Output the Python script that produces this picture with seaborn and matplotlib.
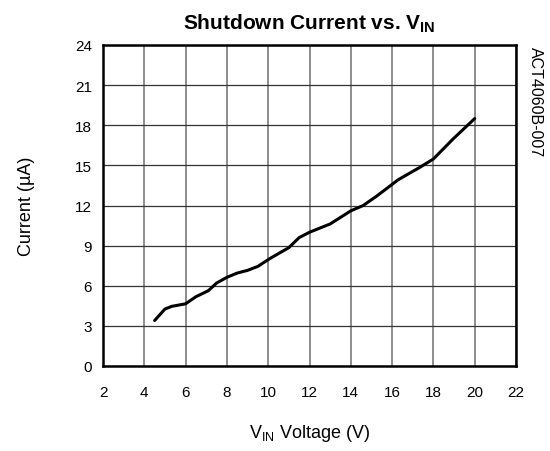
import matplotlib
matplotlib.use("Agg")
import matplotlib.pyplot as plt
import seaborn as sns
import pandas as pd

vin = [4.5, 5.0, 5.33, 6.0, 6.5, 7.1, 7.5, 8.0, 8.5, 9.0, 9.5, 10.1, 11.0, 11.5,
       12.0, 13.0, 14.0, 14.6, 15.25, 16.3, 17.35, 18.0, 18.95, 20.0]
current = [3.4, 4.26, 4.46, 4.65, 5.18, 5.63, 6.2, 6.63, 6.95, 7.15, 7.45, 8.05, 8.85, 9.6,
           10.0, 10.62, 11.6, 12.0, 12.7, 13.93, 14.86, 15.48, 16.97, 18.5]
x_ticks = [2, 4, 6, 8, 10, 12, 14, 16, 18, 20, 22]
y_ticks = [0, 3, 6, 9, 12, 15, 18, 21, 24]

sns.set_style("white", rc={"text.color": "black", "axes.labelcolor": "black",
                           "xtick.color": "black", "ytick.color": "black"})
plt.rcParams['font.family'] = ['Liberation Sans', 'DejaVu Sans']
plt.rcParams['mathtext.fontset'] = 'custom'
plt.rcParams['mathtext.rm'] = 'Liberation Sans'
plt.rcParams['mathtext.it'] = 'Liberation Sans:italic'
plt.rcParams['mathtext.bf'] = 'Liberation Sans:bold'

df = pd.DataFrame({"vin": vin, "current": current})

fig = plt.figure(figsize=(5.5, 4.52), dpi=100)
ax = fig.add_axes([103/550, 1-367/452, (516-103)/550, (367-46)/452])

sns.lineplot(data=df, x="vin", y="current", ax=ax, color="black", linewidth=2.2,
             estimator=None, sort=False)

ax.set_xlim(2, 22)
ax.set_ylim(0, 24)
ax.set_xticks(x_ticks)
ax.set_yticks(y_ticks)
ax.set_xticklabels([str(t) for t in x_ticks], fontsize=11)
ax.set_yticklabels([str(t) for t in y_ticks], fontsize=11)
ax.tick_params(axis='both', length=0)
ax.tick_params(axis='x', pad=14)
ax.tick_params(axis='y', pad=8)

ax.xaxis.grid(True, color="#7a7a7a", linewidth=1.2)
ax.yaxis.grid(True, color="#333333", linewidth=0.9)
ax.set_axisbelow(True)
for s in ax.spines.values():
    s.set_color("black")
    s.set_linewidth(1.8)
    s.set_visible(True)

ax.set_xlabel(r"V$_\mathrm{IN}$ Voltage (V)", fontsize=13, labelpad=16)
ax.set_ylabel("Current (µA)", fontsize=13, labelpad=29)
ax.set_title(r"Shutdown Current vs. V$_\mathbf{IN}$", fontsize=15, fontweight="bold", pad=12)

fig.text(535/550, 1-47/452, "ACT4060B-007", rotation=-90, fontsize=11.5,
         ha="center", va="top")

fig.savefig("out.png", dpi=100)
